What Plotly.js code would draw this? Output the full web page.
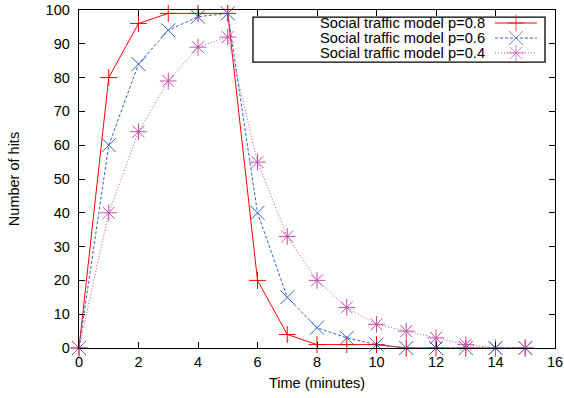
<!DOCTYPE html>
<html><head><meta charset="utf-8">
<script src="https://cdn.plot.ly/plotly-3.0.1.min.js"></script>
<style>html,body{margin:0;padding:0;background:#fff}</style>
</head><body><div id="chart" style="width:564px;height:398px"></div>
<script>
const minutes = [0,1,2,3,4,5,6,7,8,9,10,11,12,13,14,15];
const hitsP08 = [0,80,96,99,99,99,20,4,1,1,1,0,0,0,0,0];
const hitsP06 = [0,60,84,94,98,99,40,15,6,3,1,0,0,0,0,0];
const hitsP04 = [0,40,64,79,89,92,55,33,20,12,7,5,3,1,0,0];
const seriesNames = ["Social traffic model p=0.8","Social traffic model p=0.6","Social traffic model p=0.4"];
const xTicks = [0,2,4,6,8,10,12,14,16];
const yTicks = [0,10,20,30,40,50,60,70,80,90,100];

const colors = ["#ff0000","#3462c0","#c050a8"];
const symbols = ["cross-thin-open","x-thin-open","asterisk-open"];
const dashes = ["solid","3px,2px","1px,2px"];
const msizes = [12,14,14];
const series = [hitsP08,hitsP06,hitsP04];

const traces = series.map((ys,i)=>({
  x: minutes, y: ys, type:"scatter", mode:"lines+markers", name: seriesNames[i],
  line:{color:colors[i], width:1, dash:dashes[i]},
  marker:{symbol:symbols[i], size:msizes[i], color:colors[i], line:{color:colors[i], width:1}},
  showlegend:false, cliponaxis:false
}));

// custom gnuplot-style legend (text on left, sample on right), plot-area fractions
const legX0 = 0.874, legX1 = 0.962;
const legY = [0.9615, 0.917, 0.873];
series.forEach((ys,i)=>{
  traces.push({
    x:[legX0, (legX0+legX1)/2, legX1], y:[legY[i],legY[i],legY[i]],
    xaxis:"x2", yaxis:"y2", type:"scatter", mode:"lines+markers",
    line:{color:colors[i], width:1, dash:dashes[i]},
    marker:{symbol:symbols[i], size:[0,msizes[i],0], color:colors[i], line:{color:colors[i], width:1}},
    showlegend:false, hoverinfo:"skip"
  });
});
const font = {family:"Liberation Sans, Arial, sans-serif", size:14.5, color:"#000"};
const annotations = seriesNames.map((t,i)=>({
  xref:"x2", yref:"y2", x:0.853, y:legY[i], text:t, showarrow:false,
  xanchor:"right", yanchor:"middle", xshift:2, font:{family:font.family, size:14.7, color:"#000"}
}));

const layout = {
  width:564, height:398,
  margin:{l:79, r:9, t:10, b:50},
  paper_bgcolor:"#fff", plot_bgcolor:"#fff",
  font: font,
  showlegend:false,
  xaxis:{range:[0,16], tickvals:xTicks, ticktext:xTicks.map(String), ticks:"inside", ticklen:6, tickcolor:"#000",
    showgrid:false, zeroline:false, showline:true, linecolor:"#000", linewidth:1.3, mirror:"ticks",
    title:{text:"Time (minutes)", font:font, standoff:9}, tickfont:font, fixedrange:true},
  yaxis:{range:[0,100], tickvals:yTicks, ticktext:yTicks.map(String), ticks:"inside", ticklen:6, tickcolor:"#000",
    showgrid:false, zeroline:false, showline:true, linecolor:"#000", linewidth:1.3, mirror:"ticks",
    ticklabelstandoff:5,
    title:{text:"Number of hits", font:font, standoff:22}, tickfont:font, fixedrange:true},
  xaxis2:{domain:[0,1], range:[0,1], overlaying:"x", visible:false, fixedrange:true},
  yaxis2:{domain:[0,1], range:[0,1], overlaying:"y", visible:false, fixedrange:true},
  shapes:[{type:"rect", xref:"x2", yref:"y2", x0:0.3655, x1:0.979, y0:0.846, y1:0.979,
    line:{color:"#000", width:1.3}, fillcolor:"rgba(255,255,255,1)", layer:"below"}],
  annotations: annotations
};
Plotly.newPlot("chart", traces, layout, {staticPlot:true});
</script></body></html>
